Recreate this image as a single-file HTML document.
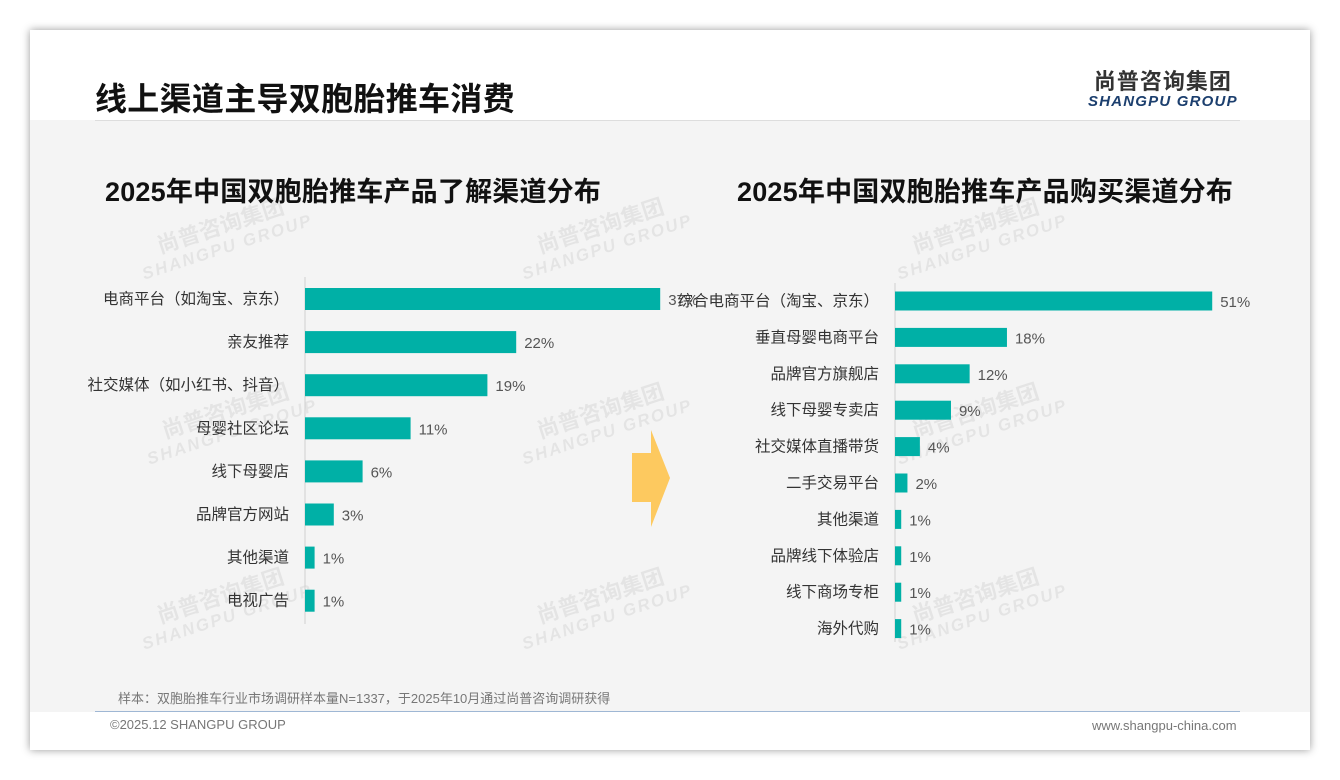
<!DOCTYPE html>
<html><head><meta charset="utf-8">
<style>
body{margin:0;width:1340px;height:780px;background:#fff;font-family:"Liberation Sans","Noto Sans CJK SC",sans-serif;position:relative;overflow:hidden}
.card{position:absolute;left:30px;top:30px;width:1280px;height:720px;background:#f4f4f4;box-shadow:0 0 8px rgba(0,0,0,.4)}
.abs{position:absolute}
.wm{position:absolute;color:#000;opacity:.06;transform:rotate(-18deg);font-weight:bold;font-size:22px;line-height:22px;text-align:center}
.wm small{display:block;font-size:17px;font-style:italic;letter-spacing:2px}
</style></head><body>
<div class="card">
<div class="abs" style="left:0;top:0;width:1280px;height:90px;background:#fff"></div>
<div class="abs" style="left:65px;top:90px;width:1145px;height:1px;background:#ddd"></div>
<div class="abs" style="left:65px;top:44px;font-size:32px;font-weight:bold;color:#111;letter-spacing:0.3px">线上渠道主导双胞胎推车消费</div>
<div class="abs" style="left:1058px;top:34px;text-align:center;color:#333">
<div style="font-size:22px;font-weight:bold;letter-spacing:1px">尚普咨询集团</div>
<div style="font-size:15px;font-weight:bold;font-style:italic;color:#1c3f6e;letter-spacing:1.2px;margin-top:-3px">SHANGPU GROUP</div></div>
<div class="abs" style="left:75px;top:140px;font-size:27px;font-weight:bold;color:#111;letter-spacing:0.2px">2025年中国双胞胎推车产品了解渠道分布</div>
<div class="abs" style="left:707px;top:140px;font-size:27px;font-weight:bold;color:#111;letter-spacing:0.2px">2025年中国双胞胎推车产品购买渠道分布</div>
<div class="abs" style="left:0;top:682px;width:1280px;height:38px;background:#fff"></div>
<div class="abs" style="left:65px;top:681px;width:1145px;height:1px;background:#9fb7d4"></div>
<div class="abs" style="left:88px;top:658px;font-size:13px;color:#777">样本：双胞胎推车行业市场调研样本量N=1337，于2025年10月通过尚普咨询调研获得</div>
<div class="abs" style="left:80px;top:687px;font-size:13px;color:#777">©2025.12 SHANGPU GROUP</div>
<div class="abs" style="left:1062px;top:688px;font-size:13px;color:#777">www.shangpu-china.com</div>
<div class="wm" style="left:105px;top:185px">尚普咨询集团<small>SHANGPU GROUP</small></div>
<div class="wm" style="left:485px;top:185px">尚普咨询集团<small>SHANGPU GROUP</small></div>
<div class="wm" style="left:860px;top:185px">尚普咨询集团<small>SHANGPU GROUP</small></div>
<div class="wm" style="left:110px;top:370px">尚普咨询集团<small>SHANGPU GROUP</small></div>
<div class="wm" style="left:485px;top:370px">尚普咨询集团<small>SHANGPU GROUP</small></div>
<div class="wm" style="left:860px;top:370px">尚普咨询集团<small>SHANGPU GROUP</small></div>
<div class="wm" style="left:105px;top:555px">尚普咨询集团<small>SHANGPU GROUP</small></div>
<div class="wm" style="left:485px;top:555px">尚普咨询集团<small>SHANGPU GROUP</small></div>
<div class="wm" style="left:860px;top:555px">尚普咨询集团<small>SHANGPU GROUP</small></div>
</div>
<svg id="chart" class="abs" style="left:0;top:0" width="1340" height="780">
<polygon points="632,453 651,453 651,430 670,478 651,527 651,502 632,502" fill="#fdc95f"/>
</svg>
<script>
const leftCats=["电商平台（如淘宝、京东）","亲友推荐","社交媒体（如小红书、抖音）","母婴社区论坛","线下母婴店","品牌官方网站","其他渠道","电视广告"];
const leftVals=[37,22,19,11,6,3,1,1];
const rightCats=["综合电商平台（淘宝、京东）","垂直母婴电商平台","品牌官方旗舰店","线下母婴专卖店","社交媒体直播带货","二手交易平台","其他渠道","品牌线下体验店","线下商场专柜","海外代购"];
const rightVals=[51,18,12,9,4,2,1,1,1,1];
const svg=document.getElementById('chart');
const NS="http://www.w3.org/2000/svg";
function mk(tag,attrs){const e=document.createElementNS(NS,tag);for(const k in attrs)e.setAttribute(k,attrs[k]);svg.appendChild(e);return e;}
function draw(cats,vals,x0,y0,step,bh,pxPer,side,axisTop,axisBot){
  const ax=mk('line',{x1:x0,x2:x0,y1:axisTop,y2:axisBot,stroke:'#d0d0d0'});
  
  
  cats.forEach((c,i)=>{
    const cy=y0+i*step, w=vals[i]*pxPer;
    const r=mk('rect',{x:x0,y:cy-bh/2,width:w,height:bh,fill:'#00b0a6'});
    
    
    const t=mk('text',{x:x0-16,y:cy+5,'text-anchor':'end','font-size':15.5,fill:'#333'});
    t.textContent=c;
    
    
    const v=mk('text',{x:x0+w+8,y:cy+6,'font-size':15,fill:'#555'});
    v.textContent=vals[i]+'%';
    
    
  });
}
draw(leftCats,leftVals,305,299,43.1,22,9.6,'left',277,624);
draw(rightCats,rightVals,895,301,36.4,19,6.22,'right',283,642);
</script>
</body></html>
